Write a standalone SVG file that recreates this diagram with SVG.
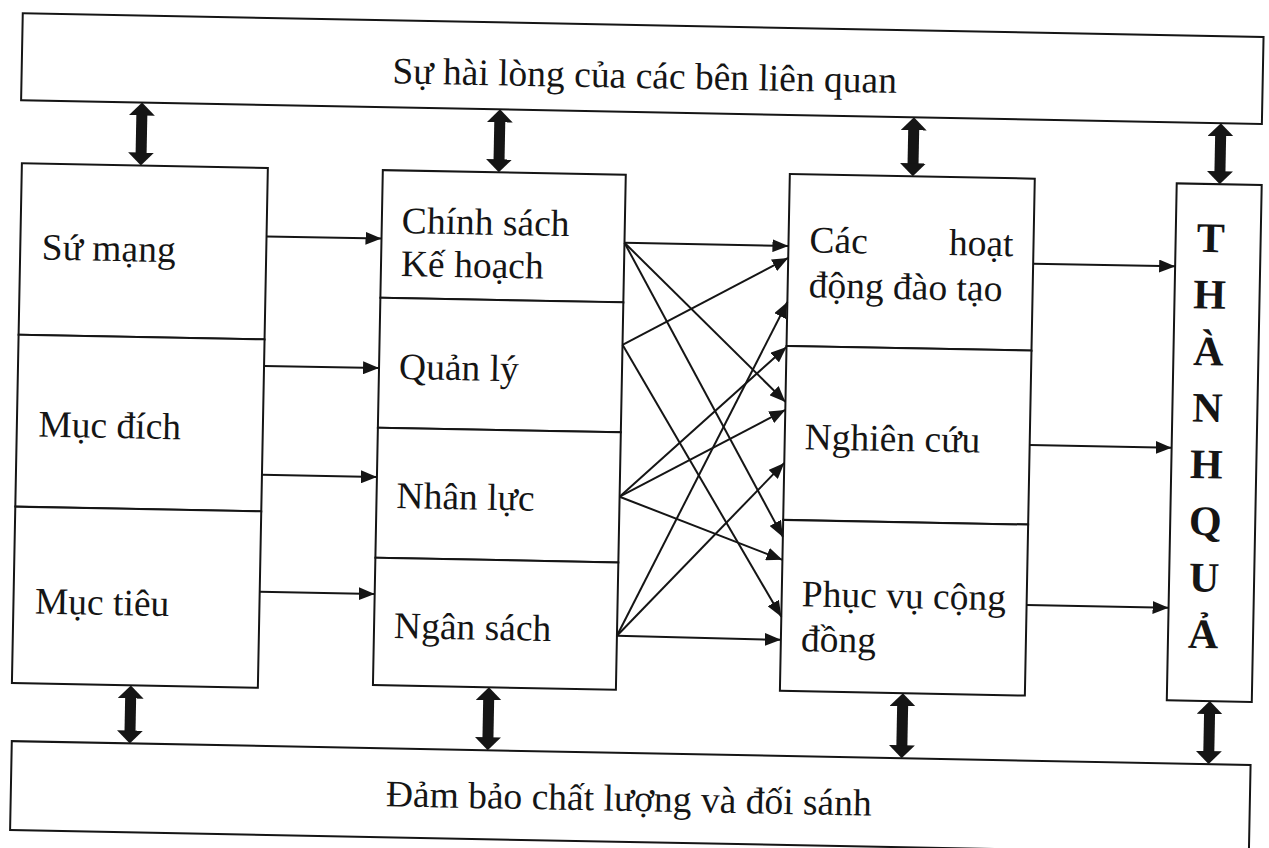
<svg xmlns="http://www.w3.org/2000/svg" width="1269" height="848" viewBox="0 0 1269 848">
<style>
.box{fill:#fff;stroke:#151515;stroke-width:2}
.lbl{font-family:"Liberation Serif","Times New Roman",serif;font-size:37.5px;fill:#151515}
.mid{text-anchor:middle}
.big{font-family:"Liberation Serif","Times New Roman",serif;font-size:42px;font-weight:bold;fill:#151515;text-anchor:middle}
.conn{stroke:#151515;stroke-width:2;fill:none;marker-end:url(#ah)}
.bi{stroke:#151515;stroke-width:11;fill:none;marker-start:url(#bh);marker-end:url(#bh)}
</style>
<defs>
<marker id="ah" markerUnits="userSpaceOnUse" markerWidth="16" markerHeight="13" viewBox="0 0 16 13" refX="16" refY="6.5" orient="auto"><path d="M0,0 L16,6.5 L0,13 Z" fill="#151515"/></marker>
<marker id="bh" markerUnits="userSpaceOnUse" markerWidth="13" markerHeight="26" viewBox="0 0 13 26" refX="5" refY="13" orient="auto-start-reverse"><path d="M0,0 L13,13 L0,26 Z" fill="#151515"/></marker>
</defs>
<rect width="1269" height="848" fill="#fff"/>
<g transform="rotate(1.1 634 424)">
<g id="hai-long">
<rect class="box" x="15" y="25" width="1241" height="87"/>
<text class="lbl mid" x="638" y="88">Sự hài lòng của các bên liên quan</text>
</g>
<g id="dam-bao">
<rect class="box" x="18" y="753" width="1239" height="89"/>
<text class="lbl mid" x="636" y="811">Đảm bảo chất lượng và đối sánh</text>
</g>
<g id="su-mang">
<rect class="box" x="17" y="175" width="246" height="171.5"/>
<text class="lbl" x="38.5" y="271">Sứ mạng</text>
</g>
<g id="muc-dich">
<rect class="box" x="17" y="346.5" width="246" height="172"/>
<text class="lbl" x="38.5" y="448">Mục đích</text>
</g>
<g id="muc-tieu">
<rect class="box" x="17" y="518.5" width="246" height="176.5"/>
<text class="lbl" x="38.5" y="625">Mục tiêu</text>
</g>
<g id="chinh-sach">
<rect class="box" x="378" y="175" width="243" height="127.6"/>
<text class="lbl" x="398" y="237.5">Chính sách</text>
<text class="lbl" x="398" y="280.5">Kế hoạch</text>
</g>
<g id="quan-ly">
<rect class="box" x="378" y="302.6" width="243" height="130"/>
<text class="lbl" x="398" y="383.5">Quản lý</text>
</g>
<g id="nhan-luc">
<rect class="box" x="378" y="432.6" width="243" height="130.1"/>
<text class="lbl" x="398" y="512.6">Nhân lực</text>
</g>
<g id="ngan-sach">
<rect class="box" x="378" y="562.7" width="243" height="127.3"/>
<text class="lbl" x="398" y="642.6">Ngân sách</text>
</g>
<g id="dao-tao">
<rect class="box" x="785" y="171" width="245" height="172"/>
<text class="lbl" x="806" y="249">Các<tspan x="1010" text-anchor="end">hoạt</tspan></text>
<text class="lbl" x="806" y="294">động đào tạo</text>
</g>
<g id="nghien-cuu">
<rect class="box" x="785" y="343" width="245" height="174"/>
<text class="lbl" x="805" y="446">Nghiên cứu</text>
</g>
<g id="phuc-vu">
<rect class="box" x="785" y="517" width="245" height="171"/>
<text class="lbl" x="805" y="603">Phục vụ cộng</text>
<text class="lbl" x="805" y="648">đồng</text>
</g>
<g id="thanh-qua">
<rect class="box" x="1172" y="173" width="85" height="517"/>
<text class="big" x="1207" y="241">T</text>
<text class="big" x="1207" y="297.6">H</text>
<text class="big" x="1207" y="354.2">À</text>
<text class="big" x="1207" y="410.8">N</text>
<text class="big" x="1207" y="467.4">H</text>
<text class="big" x="1207" y="524">Q</text>
<text class="big" x="1207" y="580.6">U</text>
<text class="big" x="1207" y="637.2">Ả</text>
</g>
<g id="connectors">
<line class="bi" x1="136" y1="120" x2="136" y2="167"/>
<line class="bi" x1="494" y1="120" x2="494" y2="167"/>
<line class="bi" x1="908" y1="120" x2="908" y2="163"/>
<line class="bi" x1="1215" y1="120" x2="1215" y2="165"/>
<line class="bi" x1="136" y1="703" x2="136" y2="745"/>
<line class="bi" x1="494" y1="698" x2="494" y2="745"/>
<line class="bi" x1="908" y1="696" x2="908" y2="745"/>
<line class="bi" x1="1215" y1="698" x2="1215" y2="745"/>
<line class="conn" x1="263" y1="243.5" x2="378" y2="243.5"/>
<line class="conn" x1="263" y1="373" x2="378" y2="373"/>
<line class="conn" x1="263" y1="482" x2="378" y2="482"/>
<line class="conn" x1="263" y1="599" x2="378" y2="599"/>
<line class="conn" x1="621" y1="243" x2="785" y2="243"/>
<line class="conn" x1="621" y1="243" x2="785" y2="399"/>
<line class="conn" x1="621" y1="243" x2="785" y2="534"/>
<line class="conn" x1="621" y1="345" x2="785" y2="255"/>
<line class="conn" x1="621" y1="345" x2="785" y2="614"/>
<line class="conn" x1="621" y1="497" x2="785" y2="344"/>
<line class="conn" x1="621" y1="497" x2="785" y2="407"/>
<line class="conn" x1="621" y1="497" x2="785" y2="557"/>
<line class="conn" x1="621" y1="636" x2="785" y2="299"/>
<line class="conn" x1="621" y1="636" x2="785" y2="460"/>
<line class="conn" x1="621" y1="636" x2="785" y2="637"/>
<line class="conn" x1="1030" y1="256" x2="1172" y2="256"/>
<line class="conn" x1="1030" y1="437.5" x2="1172" y2="437.5"/>
<line class="conn" x1="1030" y1="597.5" x2="1172" y2="597.5"/>
</g>
</g>
</svg>
